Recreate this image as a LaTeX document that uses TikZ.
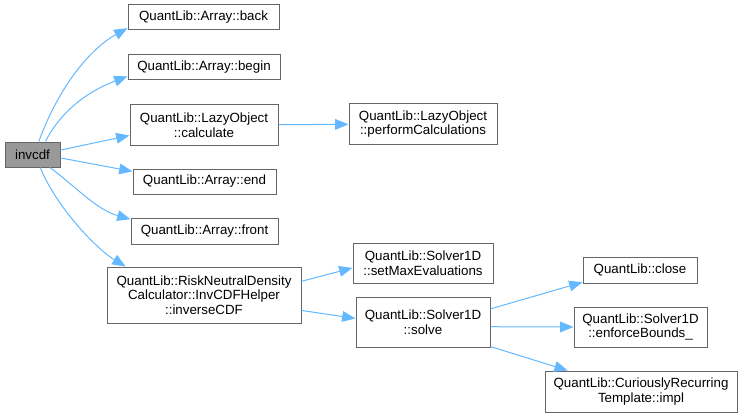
\documentclass[tikz,border=0pt]{standalone}
\usepackage{fontspec}
\setmainfont{Liberation Sans}
\usetikzlibrary{arrows.meta}
\definecolor{edgeblue}{HTML}{63B8FF}
\definecolor{boxline}{HTML}{666666}
\definecolor{curfill}{HTML}{999999}

\begin{document}
\begin{tikzpicture}[x=0.75pt,y=-0.75pt,
        fn/.style={draw=boxline,line width=0.75pt,fill=white,inner sep=0pt,align=center,
            font=\fontsize{10}{11}\selectfont},
        cur/.style={fn,fill=curfill},
        sz/.style 2 args={minimum width=#1*0.75pt,minimum height=#2*0.75pt},
        call/.style={edgeblue,line width=0.75pt,-{Triangle[length=10pt,width=8pt]}}]
        \useasboundingbox (0,0) rectangle (741,417);

        % The documented function
        \node[cur,sz={55}{25}] (invcdf) at (32.5,154.5) {invcdf};

        % First level callees
        \node[fn,sz={151}{25}] (arrback) at (203.5,17.5) {QuantLib::Array::back};
        \node[fn,sz={152}{25}] (arrbegin) at (204,67) {QuantLib::Array::begin};
        \node[fn,sz={148}{40}] (lazycalc) at (204,125) {QuantLib::LazyObject\\::calculate};
        \node[fn,sz={143}{25}] (arrend) at (204.5,181.5) {QuantLib::Array::end};
        \node[fn,sz={147}{26}] (arrfront) at (204.5,231) {QuantLib::Array::front};
        \node[fn,sz={194}{56}] (inverse) at (204,295)
            {QuantLib::RiskNeutralDensity\\Calculator::InvCDFHelper\hfill\\::inverseCDF};

        % Second level
        \node[fn,sz={148}{40}] (lazyperf) at (423,124) {QuantLib::LazyObject\\::performCalculations};
        \node[fn,sz={140}{40}] (setmax) at (423,263) {QuantLib::Solver1D\\::setMaxEvaluations};
        \node[fn,sz={134}{50}] (solve) at (423,322) {QuantLib::Solver1D\\::solve};

        % Third level
        \node[fn,sz={114}{26}] (close) at (640,270) {QuantLib::close};
        \node[fn,sz={133}{40}] (bounds) at (640.5,327) {QuantLib::Solver1D\\::enforceBounds\_};
        \node[fn,sz={192}{41}] (impl) at (641,391.5) {QuantLib::CuriouslyRecurring\\Template::impl};

        % Calls out of invcdf
        \draw[call] (invcdf.64) .. controls +(18,-50) and +(-40,22) .. (arrback.188);
        \draw[call] (invcdf.45) .. controls +(15,-30) and +(-40,15) .. (arrbegin.187);
        \draw[call] (invcdf.9) -- (lazycalc.188);
        \draw[call] (invcdf.-7) -- (arrend.172);
        \draw[call] (invcdf.-37) .. controls +(25,18) and +(-35,-10) .. (arrfront.171);
        \draw[call] (invcdf.-59) .. controls +(15,38) and +(-30,-18) .. (inverse.160);

        % Deeper calls
        \draw[call] (lazycalc) -- (lazyperf);
        \draw[call] (inverse.8) -- (setmax.184);
        \draw[call] (inverse.-9) -- (solve.177);
        \draw[call] (solve.11) -- (close.192);
        \draw[call] (solve.-4) -- (bounds.west);
        \draw[call] (solve.-20) -- (impl.164);
    \end{tikzpicture}
\end{document}
